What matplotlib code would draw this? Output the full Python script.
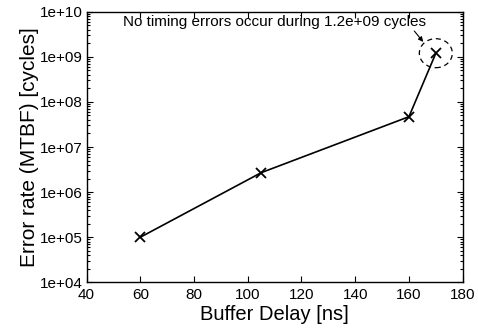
import numpy as np
import matplotlib
matplotlib.use('Agg')
import matplotlib.pyplot as plt
from matplotlib.patches import Ellipse
from matplotlib.transforms import IdentityTransform, ScaledTranslation
from matplotlib.ticker import FuncFormatter, LogLocator

plt.rcParams['font.family'] = ['Liberation Sans', 'DejaVu Sans']

delay = [60, 105, 160, 170]
mtbf = [1e5, 2.7e6, 4.7e7, 1.2e9]
note = 'No timing errors occur during 1.2e+09 cycles'

fig = plt.figure(figsize=(4.78, 3.33), dpi=100)
ax = fig.add_axes([0.181, 0.152, 0.787, 0.813])

ax.semilogy(delay, mtbf, color='black', lw=1.2, marker='x', ms=7, mew=1.3)

ax.set_xlim(40, 180)
ax.set_ylim(1e4, 1e10)
ax.set_xticks(np.arange(40, 181, 20))
ax.yaxis.set_major_locator(LogLocator(base=10, numticks=10))
ax.yaxis.set_minor_locator(LogLocator(base=10, subs=np.arange(2, 10), numticks=10))
ax.yaxis.set_major_formatter(FuncFormatter(lambda v, p: f'{v:.0e}'))
ax.tick_params(which='both', direction='in', top=True, right=True, labelsize=11, width=0.8, pad=2.5)
ax.tick_params(axis='x', pad=4)
ax.tick_params(which='major', length=4.5)
ax.tick_params(which='minor', length=2.5)
for s in ax.spines.values():
    s.set_linewidth(1.0)

ax.set_xlabel('Buffer Delay [ns]', fontsize=14.5, labelpad=2)
ax.set_ylabel('Error rate (MTBF) [cycles]', fontsize=15, labelpad=1)

# dashed circle around last point (size in pixels)
tr = IdentityTransform() + ScaledTranslation(delay[-1], mtbf[-1], ax.transData)
ax.add_patch(Ellipse((0, 0), 33, 29, transform=tr, fill=False, ls=(0, (4, 3)), lw=0.9, color='black'))

ax.text(53.5, 10**9.77, note, fontsize=11, va='center', ha='left')
ax.annotate('', xy=(165.3, 10**9.33), xytext=(162.0, 10**9.57),
            arrowprops=dict(arrowstyle='-|>', color='black', lw=0.8, mutation_scale=7, shrinkA=0, shrinkB=0))

fig.savefig('out.png', dpi=100)
